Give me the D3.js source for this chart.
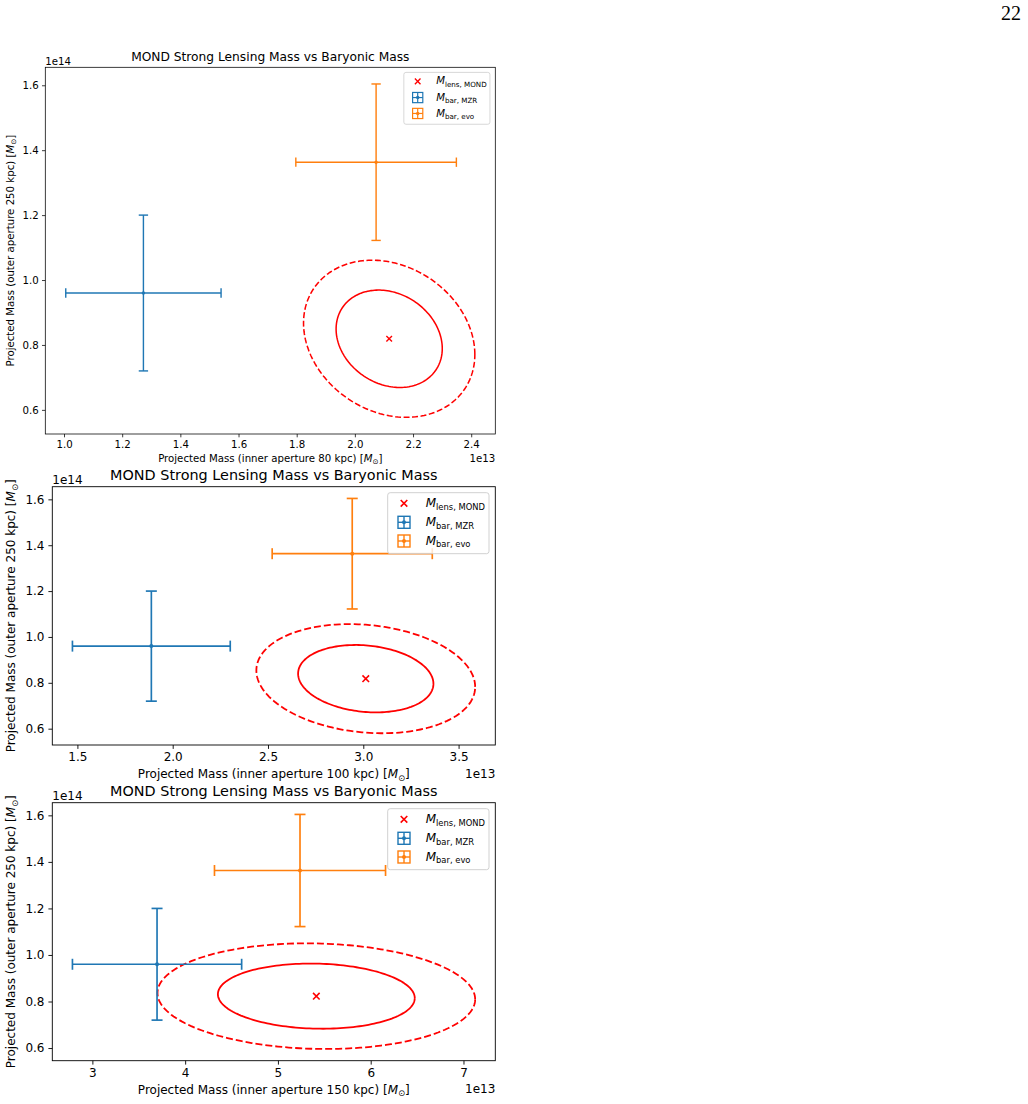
<!DOCTYPE html>
<html>
<head>
<meta charset="utf-8">
<script src="https://cdn.jsdelivr.net/npm/d3@7"></script>
<style>
  body { margin: 0; background: #fff; }
  svg { display: block; font-family: "DejaVu Sans", sans-serif; }
</style>
</head>
<body>
<svg id="chart" width="1028" height="1104"></svg>
<script>
// inner aperture of each panel (kpc)
const innerApertures = [80, 100, 150];

// x in units of 1e13 Msun, y in units of 1e14 Msun
const lensX = [2.118, 3.013, 5.414];
const lensY = [0.819, 0.818, 0.823];

const mzrX = [1.273, 1.888, 3.697];
const mzrXErr = [0.267, 0.414, 0.912];
const mzrY = [0.96, 0.96, 0.96];
const mzrYErr = [0.24, 0.24, 0.24];

const evoX = [2.073, 2.942, 5.238];
const evoXErr = [0.276, 0.42, 0.922];
const evoY = [1.363, 1.363, 1.363];
const evoYErr = [0.241, 0.241, 0.241];

// lensing contours: half extent in x / y and tilt (correlation), inner solid + outer dashed
const contourInnerX = [0.1825, 0.355, 1.061];
const contourInnerY = [0.150, 0.147, 0.140];
const contourOuterX = [0.2945, 0.574, 1.712];
const contourOuterY = [0.242, 0.238, 0.227];
const contourRho = [-0.2, -0.15, -0.06];

const xTicks = [[1.0, 1.2, 1.4, 1.6, 1.8, 2.0, 2.2, 2.4], [1.5, 2.0, 2.5, 3.0, 3.5], [3, 4, 5, 6, 7]];
const xTickFormat = [".1f", ".1f", "d"];
const yTicks = [0.6, 0.8, 1.0, 1.2, 1.4, 1.6];

const legendLabels = ["lens, MOND", "bar, MZR", "bar, evo"];
const title = "MOND Strong Lensing Mass vs Baryonic Mass";

const blue = "#1f77b4", orange = "#ff7f0e", red = "#ff0000";

const svg = d3.select("#chart");

// page number
svg.append("text")
    .attr("x", 1021).attr("y", 20)
    .attr("text-anchor", "end")
    .style("font-family", "'Liberation Serif', serif")
    .style("font-size", "20px")
    .text("22");

// axes boxes [left, top, right, bottom] and a scale factor for the first (smaller-type) panel
const boxes = [[45.3, 67.3, 495.3, 434], [52.3, 486.7, 495.3, 745], [52.3, 802.7, 495.3, 1060.7]];
const scales = [0.85, 1, 1];

const ellipsePoints = (cx, cy, hx, hy, rho) => d3.range(0, 361, 2).map(a => {
    const t = a * Math.PI / 180;
    return [cx + hx * Math.cos(t), cy + hy * (rho * Math.cos(t) + Math.sqrt(1 - rho * rho) * Math.sin(t))];
});

const pad = (lo, hi) => [lo - (hi - lo) * 0.05, hi + (hi - lo) * 0.05];

// text like "M" italic with a small roman subscript
function mathM(sel, sub, fs) {
    sel.append("tspan").style("font-style", "italic").text("M");
    sel.append("tspan").attr("dy", fs * 0.22).style("font-size", (fs * 0.7) + "px").text(sub);
    sel.append("tspan").attr("dy", -fs * 0.22).text("");
}

function axisLabel(sel, before, fs) {
    sel.append("tspan").text(before + "[");
    sel.append("tspan").style("font-style", "italic").text("M");
    sel.append("tspan").attr("dy", fs * 0.22).style("font-size", (fs * 0.7) + "px").text("⊙");
    sel.append("tspan").attr("dy", -fs * 0.22).text("]");
}

innerApertures.forEach((ap, i) => {
    const [L, T, R, B] = boxes[i];
    const s = scales[i];
    const fs = 12 * s, tfs = 14.4 * s;
    const g = svg.append("g");

    const xs = [mzrX[i] - mzrXErr[i], mzrX[i] + mzrXErr[i], evoX[i] - evoXErr[i], evoX[i] + evoXErr[i],
        lensX[i] - contourOuterX[i], lensX[i] + contourOuterX[i]];
    const ys = [mzrY[i] - mzrYErr[i], mzrY[i] + mzrYErr[i], evoY[i] - evoYErr[i], evoY[i] + evoYErr[i],
        lensY[i] - contourOuterY[i], lensY[i] + contourOuterY[i]];

    const x = d3.scaleLinear().domain(pad(d3.min(xs), d3.max(xs))).range([L, R]);
    const y = d3.scaleLinear().domain(pad(d3.min(ys), d3.max(ys))).range([B, T]);

    // axes
    const xAxis = g.append("g")
        .attr("transform", `translate(0,${B})`)
        .call(d3.axisBottom(x).tickValues(xTicks[i]).tickFormat(d3.format(xTickFormat[i]))
            .tickSizeOuter(0).tickSize(3.9 * s).tickPadding(3.9 * s));
    const yAxis = g.append("g")
        .attr("transform", `translate(${L},0)`)
        .call(d3.axisLeft(y).tickValues(yTicks).tickFormat(d3.format(".1f"))
            .tickSizeOuter(0).tickSize(3.9 * s).tickPadding(3.9 * s));
    [xAxis, yAxis].forEach(a => {
        a.attr("font-size", fs).attr("font-family", "DejaVu Sans, sans-serif");
        a.select(".domain").remove();
        a.selectAll(".tick line").attr("stroke", "#000").attr("stroke-width", 0.9 * s);
        a.selectAll(".tick text").attr("fill", "#000");
    });

    // contours
    const line = d3.line().x(d => x(d[0])).y(d => y(d[1]));
    g.append("path")
        .attr("d", line(ellipsePoints(lensX[i], lensY[i], contourOuterX[i], contourOuterY[i], contourRho[i])))
        .attr("fill", "none").attr("stroke", red).attr("stroke-width", 1.8 * s)
        .attr("stroke-dasharray", `${7 * s},${3 * s}`);
    g.append("path")
        .attr("d", line(ellipsePoints(lensX[i], lensY[i], contourInnerX[i], contourInnerY[i], contourRho[i])))
        .attr("fill", "none").attr("stroke", red).attr("stroke-width", 1.8 * s);

    // error bars
    const cap = 5.5 * s, lw = 1.67 * s;
    [[mzrX, mzrXErr, mzrY, mzrYErr, blue], [evoX, evoXErr, evoY, evoYErr, orange]].forEach(([ex, exe, ey, eye, col]) => {
        const cx = x(ex[i]), cy = y(ey[i]);
        const x0 = x(ex[i] - exe[i]), x1 = x(ex[i] + exe[i]);
        const y0 = y(ey[i] - eye[i]), y1 = y(ey[i] + eye[i]);
        const eb = g.append("g").attr("stroke", col).attr("stroke-width", lw);
        eb.append("line").attr("x1", x0).attr("x2", x1).attr("y1", cy).attr("y2", cy);
        eb.append("line").attr("x1", cx).attr("x2", cx).attr("y1", y0).attr("y2", y1);
        eb.append("line").attr("x1", x0).attr("x2", x0).attr("y1", cy - cap).attr("y2", cy + cap);
        eb.append("line").attr("x1", x1).attr("x2", x1).attr("y1", cy - cap).attr("y2", cy + cap);
        eb.append("line").attr("x1", cx - cap).attr("x2", cx + cap).attr("y1", y0).attr("y2", y0);
        eb.append("line").attr("x1", cx - cap).attr("x2", cx + cap).attr("y1", y1).attr("y2", y1);
        g.append("circle").attr("cx", cx).attr("cy", cy).attr("r", 2 * s).attr("fill", col);
    });

    // lens mass marker
    const mx = x(lensX[i]), my = y(lensY[i]), mk = 3.3 * s;
    g.append("path")
        .attr("d", `M${mx - mk},${my - mk}L${mx + mk},${my + mk}M${mx - mk},${my + mk}L${mx + mk},${my - mk}`)
        .attr("stroke", red).attr("stroke-width", 1.6 * s);

    // spines
    g.append("rect")
        .attr("x", L).attr("y", T).attr("width", R - L).attr("height", B - T)
        .attr("fill", "none").attr("stroke", "#000").attr("stroke-width", 0.9 * s);

    // title and labels
    g.append("text")
        .attr("x", (L + R) / 2).attr("y", T - 7 * s)
        .attr("text-anchor", "middle").style("font-size", tfs + "px")
        .text(title);
    g.append("text")
        .attr("x", L).attr("y", T - 3 * s)
        .style("font-size", fs + "px").text("1e14");
    g.append("text")
        .attr("x", R).attr("y", B + 32.5 * s).attr("text-anchor", "end")
        .style("font-size", fs + "px").text("1e13");
    g.append("text")
        .attr("x", (L + R) / 2).attr("y", B + 33 * s)
        .attr("text-anchor", "middle").style("font-size", fs + "px")
        .call(t => axisLabel(t, `Projected Mass (inner aperture ${ap} kpc) `, fs));
    g.append("text")
        .attr("transform", `translate(${L - 37 * s},${(T + B) / 2}) rotate(-90)`)
        .attr("text-anchor", "middle").style("font-size", fs + "px")
        .call(t => axisLabel(t, "Projected Mass (outer aperture 250 kpc) ", fs));

    // legend
    const lw0 = 101.3 * s, lh0 = 61 * s;
    const lx = R - 6.3 * s - lw0, ly = T + 6 * s;
    const lg = g.append("g");
    lg.append("rect")
        .attr("x", lx).attr("y", ly).attr("width", lw0).attr("height", lh0)
        .attr("rx", 2.5 * s).attr("fill", "#fff").attr("fill-opacity", 0.8)
        .attr("stroke", "#cccccc").attr("stroke-width", 0.9 * s);
    const rows = [10.6, 29.6, 48.3].map(v => ly + v * s);
    const hx = lx + 16.3 * s, tx = lx + 38 * s;
    // x marker
    const hk = 3.3 * s;
    lg.append("path")
        .attr("d", `M${hx - hk},${rows[0] - hk}L${hx + hk},${rows[0] + hk}M${hx - hk},${rows[0] + hk}L${hx + hk},${rows[0] - hk}`)
        .attr("stroke", red).attr("stroke-width", 1.6 * s);
    [[rows[1], blue], [rows[2], orange]].forEach(([ry, col]) => {
        const h = 6 * s;
        const hg = lg.append("g").attr("stroke", col).attr("stroke-width", 1.4 * s).attr("fill", "none");
        hg.append("rect").attr("x", hx - h).attr("y", ry - h).attr("width", 2 * h).attr("height", 2 * h);
        hg.append("line").attr("x1", hx - h).attr("x2", hx + h).attr("y1", ry).attr("y2", ry);
        hg.append("line").attr("x1", hx).attr("x2", hx).attr("y1", ry - h).attr("y2", ry + h);
        lg.append("circle").attr("cx", hx).attr("cy", ry).attr("r", 2 * s).attr("fill", col);
    });
    legendLabels.forEach((lab, k) => {
        lg.append("text")
            .attr("x", tx).attr("y", rows[k] + 0.3 * fs)
            .style("font-size", fs + "px")
            .call(t => mathM(t, lab, fs));
    });
});
</script>
</body>
</html>
